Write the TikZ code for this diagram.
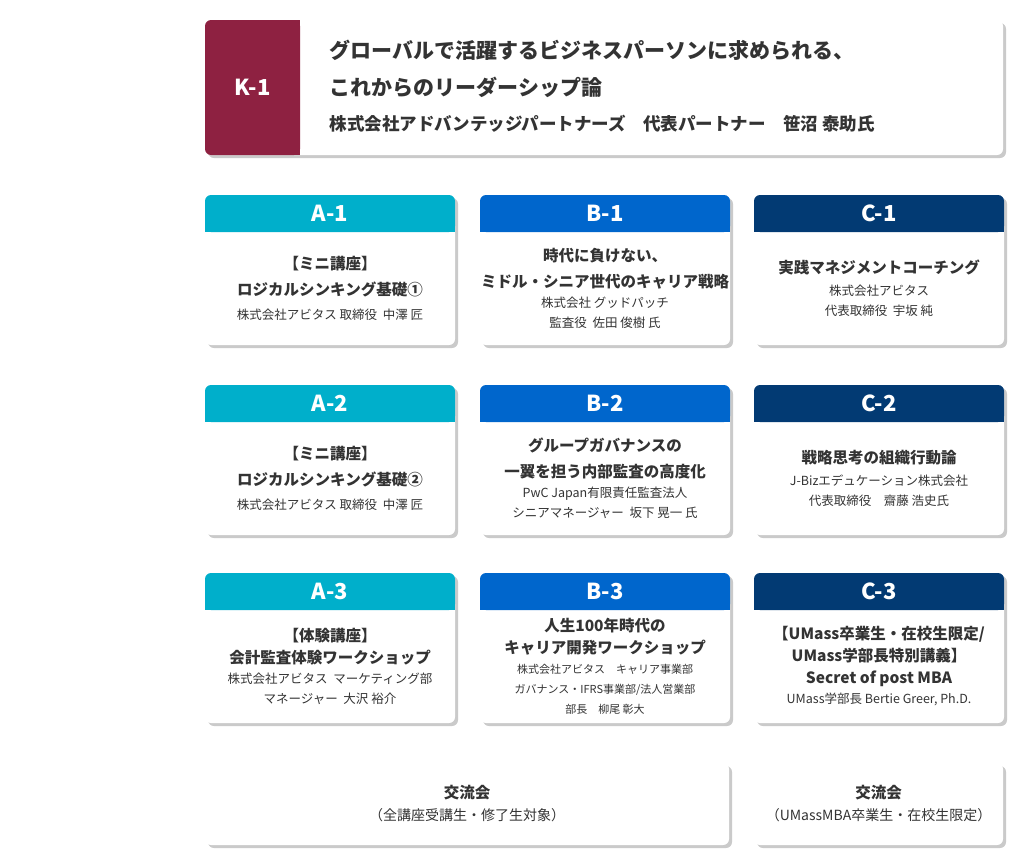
\documentclass[tikz,border=0pt]{standalone}
\usepackage{fontspec}
\setmainfont{Noto Sans CJK JP}
\usetikzlibrary{shadows}
\definecolor{cA}{HTML}{00AFCB}
\definecolor{cB}{HTML}{0066CC}
\definecolor{cC}{HTML}{023A73}
\definecolor{cK}{HTML}{8E2141}
\definecolor{tx}{HTML}{333333}
\tikzset{
 cardbox/.style={fill=white,rounded corners=6pt,drop shadow={shadow xshift=3pt,shadow yshift=-3pt,opacity=0.35,fill=black!60}},
 hdtext/.style={text=white,font=\fontsize{22}{24}\selectfont\bfseries},
 bodytext/.style={text=tx,align=center,font=\fontsize{15.5}{26}\selectfont\bfseries},
}
\newcommand{\sm}{\fontsize{12.5}{20}\selectfont\mdseries}
% \mycard{name}{x}{y}{color}{label}{body}
\newcommand{\mycard}[6]{%
 \path[cardbox] (#2,#3) rectangle ++(250,150);
 \fill[#4,rounded corners=6pt] (#2,#3) rectangle ++(250,37);
 \fill[#4] (#2,#3+20) rectangle ++(250,17);
 \node[hdtext] (#1h) at (#2+125,#3+18.5) {#5};
 \node[bodytext] (#1b) at (#2+125,#3+93) {#6};
}
\begin{document}
\begin{tikzpicture}[x=1pt,y=-1pt]
\useasboundingbox (0,0) rectangle (1024,865);
% K-1
\path[cardbox] (205,20) rectangle (1003,155);
\fill[cK,rounded corners=6pt] (205,20) rectangle (300,155);
\fill[cK] (280,20) rectangle (300,155);
\node[hdtext] (kh) at (252.5,87.5) {K-1};
\node[text=tx,anchor=west,align=left,font=\fontsize{21}{37}\selectfont\bfseries] (kt) at (326,69)
 {グローバルで活躍するビジネスパーソンに求められる、\\これからのリーダーシップ論};
\node[text=tx,anchor=west,font=\fontsize{17.5}{20}\selectfont\bfseries] (ks) at (326,124)
 {株式会社アドバンテッジパートナーズ\hspace{1em}代表パートナー\hspace{1em}笹沼 泰助氏};
% row 1
\mycard{a1}{205}{195}{cA}{A-1}{【ミニ講座】\\ロジカルシンキング基礎①\\[-2pt]{\sm 株式会社アビタス 取締役\ \ 中澤 匠}}
\mycard{b1}{480}{195}{cB}{B-1}{時代に負けない、\\ミドル・シニア世代のキャリア戦略\\[-6pt]{\sm 株式会社 グッドパッチ}\\[-6pt]{\sm 監査役\ \ 佐田 俊樹 氏}}
\mycard{c1}{754}{195}{cC}{C-1}{実践マネジメントコーチング\\[-4pt]{\sm 株式会社アビタス}\\[-6pt]{\sm 代表取締役\ \ 宇坂 純}}
% row 2
\mycard{a2}{205}{385}{cA}{A-2}{【ミニ講座】\\ロジカルシンキング基礎②\\[-2pt]{\sm 株式会社アビタス 取締役\ \ 中澤 匠}}
\mycard{b2}{480}{385}{cB}{B-2}{グループガバナンスの\\一翼を担う内部監査の高度化\\[-6pt]{\sm PwC Japan有限責任監査法人}\\[-6pt]{\sm シニアマネージャー\ \ 坂下 晃一 氏}}
\mycard{c2}{754}{385}{cC}{C-2}{戦略思考の組織行動論\\[-4pt]{\sm J-Bizエデュケーション株式会社}\\[-6pt]{\sm 代表取締役\hspace{1em}齋藤 浩史氏}}
% row 3
\mycard{a3}{205}{573}{cA}{A-3}{【体験講座】\\[-4pt]会計監査体験ワークショップ\\[-6pt]{\sm 株式会社アビタス\ \ マーケティング部}\\[-6pt]{\sm マネージャー\ \ 大沢 裕介}}
\mycard{b3}{480}{573}{cB}{B-3}{人生100年時代の\\[-4pt]キャリア開発ワークショップ\\[-6pt]{\fontsize{11}{18}\selectfont\mdseries 株式会社アビタス\hspace{1em}キャリア事業部}\\[-6pt]{\fontsize{11}{18}\selectfont\mdseries ガバナンス・IFRS事業部/法人営業部}\\[-6pt]{\fontsize{11}{18}\selectfont\mdseries 部長\hspace{1em}柳尾 彰大}}
\mycard{c3}{754}{573}{cC}{C-3}{【UMass卒業生・在校生限定/\\[-4pt]UMass学部長特別講義】\\[-4pt]Secret of post MBA\\[-6pt]{\sm UMass学部長 Bertie Greer, Ph.D.}}
% bottom
\path[cardbox] (205,763) rectangle (729,845);
\node[bodytext] (x1) at (467,804) {交流会\\[-4pt]{\fontsize{14}{20}\selectfont\mdseries （全講座受講生・修了生対象）}};
\path[cardbox] (754,763) rectangle (1003,845);
\node[bodytext] (x2) at (878.5,804) {交流会\\[-4pt]{\fontsize{14}{20}\selectfont\mdseries （UMassMBA卒業生・在校生限定）}};
\end{tikzpicture}
\end{document}
